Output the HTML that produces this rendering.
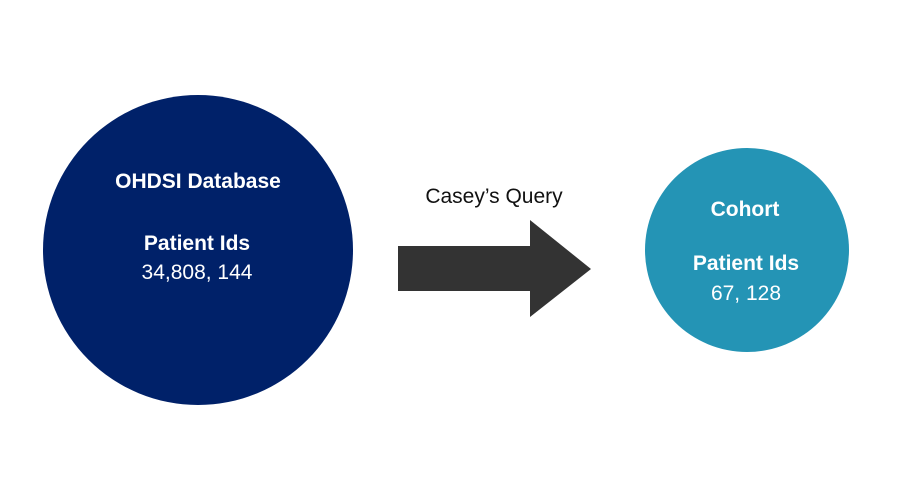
<!DOCTYPE html>
<html><head><style>
html,body{margin:0;padding:0;background:#fff;}
svg{display:block;}
</style></head><body>
<svg width="900" height="500" xmlns="http://www.w3.org/2000/svg" font-family="Liberation Sans, sans-serif">
<rect width="900" height="500" fill="#fff"/>
<circle cx="198" cy="250" r="155" fill="#002169"/>
<circle cx="747" cy="250" r="102" fill="#2494b5"/>
<polygon points="398,246 530,246 530,220 591,269 530,317 530,291 398,291" fill="#333333"/>
<text x="494" y="203" font-size="21" text-anchor="middle" fill="#111">Casey’s Query</text>
<g fill="#fff" text-anchor="middle">
<text x="198" y="188" font-size="21" font-weight="bold">OHDSI Database</text>
<text x="197" y="250" font-size="21" font-weight="bold">Patient Ids</text>
<text x="197" y="279" font-size="21">34,808, 144</text>
<text x="745" y="216" font-size="21" font-weight="bold">Cohort</text>
<text x="746" y="270" font-size="21" font-weight="bold">Patient Ids</text>
<text x="746" y="300" font-size="21">67, 128</text>
</g>
</svg>
</body></html>
